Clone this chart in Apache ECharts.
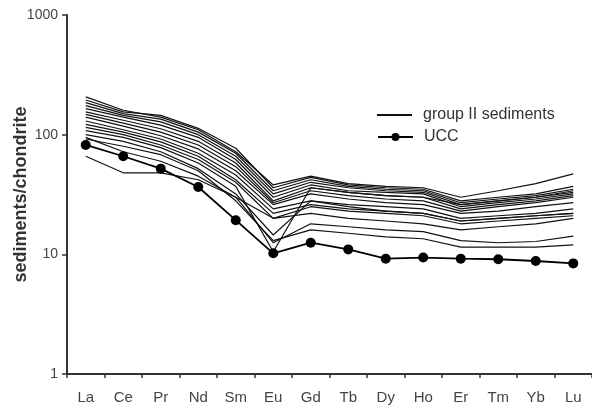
<!DOCTYPE html>
<html>
<head>
<meta charset="utf-8">
<script src="https://cdn.jsdelivr.net/npm/echarts@6/dist/echarts.min.js"></script>
<style>
  html, body { margin: 0; padding: 0; background: #fff; }
  #box { width: 592px; height: 408px; }
</style>
</head>
<body>
<div id="box"></div>
<script>
// REE elements on x axis
var elements = ['La', 'Ce', 'Pr', 'Nd', 'Sm', 'Eu', 'Gd', 'Tb', 'Dy', 'Ho', 'Er', 'Tm', 'Yb', 'Lu'];
var yTicks = [1, 10, 100, 1000];

// upper continental crust reference
var ucc = [82, 66, 52, 36.5, 19.3, 10.2, 12.5, 11, 9.2, 9.4, 9.2, 9.1, 8.8, 8.4];

// group II sediment samples (approx)
var s1  = [207, 160, 140, 110, 72, 38, 45, 39, 37, 36, 30, 34, 39, 47];
var s2  = [195, 155, 145, 113, 77, 36, 44, 38, 36, 35, 28, 30, 32, 37];
var s3  = [185, 150, 135, 105, 70, 34, 42, 37, 35, 34, 27, 29, 31, 35];
var s4  = [175, 145, 128, 100, 66, 32, 40, 36, 34, 33, 26, 28, 30, 33];
var s5  = [165, 140, 120, 95, 62, 30, 38, 34, 33, 32, 25, 27, 29, 32];
var s6  = [155, 132, 112, 88, 58, 28, 36, 33, 31, 30, 24, 26, 28, 31];
var s7  = [148, 125, 105, 82, 54, 27, 34, 31, 29, 28, 23, 25, 27, 30];
var s8  = [140, 118, 98, 76, 50, 26, 32, 29, 27, 26, 22, 23, 25, 27];
var s9  = [130, 110, 92, 70, 46, 24, 28, 26, 25, 24, 20, 21, 22, 24];
var s10 = [122, 105, 87, 66, 42, 22, 26, 24, 23, 22, 19, 20, 21, 22];
var s11 = [115, 100, 82, 62, 40, 20, 25, 23, 22, 21, 18, 19, 20, 21];
var s12 = [108, 95, 78, 58, 37, 10.5, 36, 33, 31, 30, 26, 28, 30, 34];
var s13 = [100, 88, 72, 52, 32, 14.5, 28, 25, 23, 22, 19, 20, 21, 22];
var s14 = [95, 72, 60, 45, 30, 12.5, 18, 17, 16, 15.5, 13, 12.5, 12.8, 14.2];
var s15 = [66, 48, 48, 42, 30, 20, 22, 20, 19, 18, 16, 17, 18, 20];
var s16 = [92, 80, 68, 50, 28, 13, 16, 15, 14, 13.5, 11.5, 11.5, 11.5, 12];

var samples = [s1, s2, s3, s4, s5, s6, s7, s8, s9, s10, s11, s12, s13, s14, s15, s16];

var chart = echarts.init(document.getElementById('box'));

var series = samples.map(function (d) {
    return {
        name: 'group II sediments',
        type: 'line',
        data: d,
        symbol: 'none',
        lineStyle: { color: '#111', width: 1.2 },
        itemStyle: { color: '#111' },
        silent: true
    };
});
series.push({
    name: 'UCC',
    type: 'line',
    data: ucc,
    symbol: 'circle',
    symbolSize: 10,
    lineStyle: { color: '#000', width: 1.8 },
    itemStyle: { color: '#000' },
    z: 5
});

var legendText = { color: '#333', fontSize: 16, fontFamily: 'Liberation Sans', padding: [0, 0, 0, 6] };

var option = {
    animation: false,
    backgroundColor: '#fff',
    grid: { left: 67, right: 0, top: 15, bottom: 34 },
    legend: [{
        left: 372,
        top: 102,
        icon: 'rect',
        itemWidth: 35,
        itemHeight: 2,
        data: ['group II sediments'],
        textStyle: legendText
    }, {
        left: 372,
        top: 124,
        itemWidth: 35,
        itemHeight: 10,
        data: ['UCC'],
        textStyle: legendText
    }],
    xAxis: {
        type: 'category',
        data: elements,
        boundaryGap: true,
        axisLine: { lineStyle: { color: '#333', width: 2 } },
        axisTick: { show: true, length: 4, lineStyle: { color: '#333', width: 1.5 } },
        axisLabel: { color: '#444', fontSize: 15, fontFamily: 'Liberation Sans', margin: 16 },
        splitLine: { show: false }
    },
    yAxis: {
        type: 'log',
        logBase: 10,
        min: yTicks[0],
        max: yTicks[yTicks.length - 1],
        name: 'sediments/chondrite',
        nameLocation: 'middle',
        nameGap: 37,
        nameMoveOverlap: false,
        nameTextStyle: { color: '#333', fontSize: 18, fontWeight: 'bold', fontFamily: 'Liberation Sans' },
        axisLine: { show: true, lineStyle: { color: '#333', width: 2 } },
        axisTick: { show: true, length: 5, lineStyle: { color: '#333', width: 1.5 } },
        minorTick: { show: false },
        axisLabel: {
            color: '#444', fontSize: 14, fontFamily: 'Liberation Sans', margin: 9,
            formatter: function (v) { return yTicks.indexOf(v) >= 0 ? String(v) : ''; }
        },
        splitLine: { show: false }
    },
    series: series
};
chart.setOption(option);
</script>
</body>
</html>
